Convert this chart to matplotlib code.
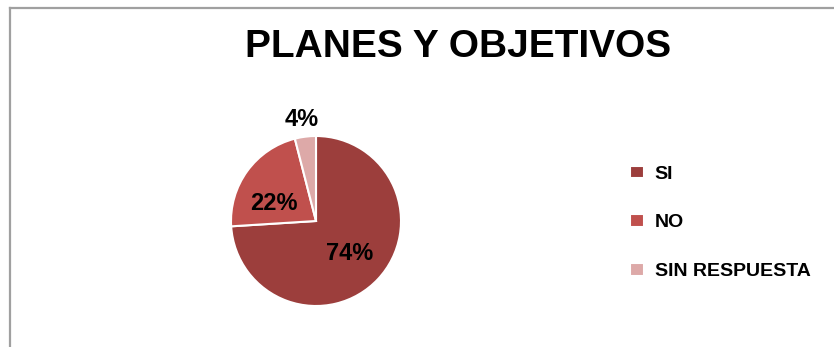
import matplotlib.pyplot as plt
from matplotlib.lines import Line2D

labels = ['SI', 'NO', 'SIN RESPUESTA']
values = [74, 22, 4]
colors = ['#9C3E3C', '#C0504D', '#DDA9A8']

plt.rcParams['font.family'] = ['Liberation Sans', 'DejaVu Sans']

fig = plt.figure(figsize=(8.34, 3.47), dpi=100)

# chart area border (only left and top visible in the crop)
fig.add_artist(Line2D([9.5 / 834, 9.5 / 834], [0, 1 - 8 / 347], color='#A0A0A0', lw=1.6))
fig.add_artist(Line2D([9.5 / 834, 1], [1 - 8 / 347, 1 - 8 / 347], color='#A0A0A0', lw=1.6))

fig.text(458 / 834, 1 - 47 / 347, 'PLANES Y OBJETIVOS', ha='center', va='center',
         fontsize=28, fontweight='bold')

# pie centred at about (316, 221), radius ~85 px
cx, cy, r = 316, 221, 85
ax = fig.add_axes([(cx - r) / 834, 1 - (cy + r) / 347, 2 * r / 834, 2 * r / 347])
wedges, _ = ax.pie(values, colors=colors, startangle=90, counterclock=False,
                   wedgeprops=dict(edgecolor='white', linewidth=1.5))
ax.set_xlim(-1, 1)
ax.set_ylim(-1, 1)
ax.set_aspect('equal')

ax.text(0.39, -0.38, '74%', ha='center', va='center', fontsize=17, fontweight='bold')
ax.text(-0.49, 0.21, '22%', ha='center', va='center', fontsize=17, fontweight='bold')
ax.text(-0.165, 1.19, '4%', ha='center', va='center', fontsize=17, fontweight='bold')

fig.legend(wedges, labels, loc='upper left', bbox_to_anchor=(612 / 834, 1 - 148 / 347),
           frameon=False, handlelength=0.75, handleheight=0.65,
           labelspacing=1.61, handletextpad=0.55, prop=dict(weight='bold', size=14))

fig.savefig('out.png', dpi=100, facecolor='white')
